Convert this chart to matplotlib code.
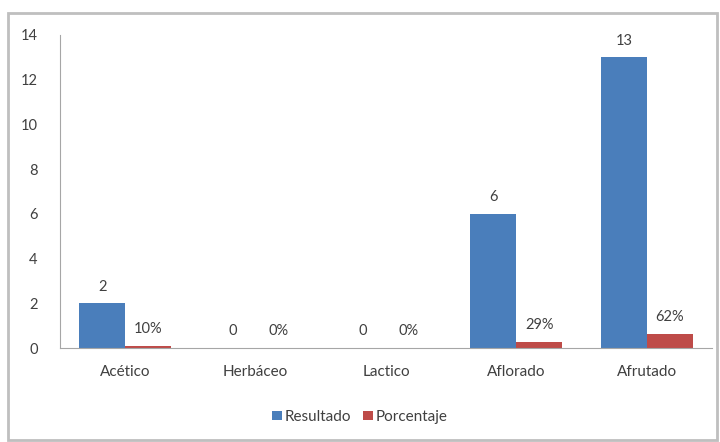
import matplotlib
matplotlib.use("Agg")
import matplotlib.pyplot as plt
from matplotlib.patches import Rectangle
import numpy as np

categories = ["Acético", "Herbáceo", "Lactico", "Aflorado", "Afrutado"]
resultado = [2, 0, 0, 6, 13]
porcentaje = [0.10, 0.0, 0.0, 0.29, 0.62]
resultado_labels = ["2", "0", "0", "6", "13"]
porcentaje_labels = ["10%", "0%", "0%", "29%", "62%"]
yticks = [0, 2, 4, 6, 8, 10, 12, 14]

plt.rcParams['font.family'] = ['Lato', 'DejaVu Sans']
text_color = "#404040"
blue = "#4a7ebb"
red = "#be4b48"

fig = plt.figure(figsize=(7.2, 4.42), dpi=100)
ax = fig.add_axes([60/720, 1-348/442, 652/720, (348-35)/442])

x = np.arange(len(categories))
w = 0.353
b1 = ax.bar(x - w/2, resultado, w, color=blue, label="Resultado")
b2 = ax.bar(x + w/2, porcentaje, w, color=red, label="Porcentaje")

for xi, v, lab in zip(x, resultado, resultado_labels):
    ax.annotate(lab, (xi - w/2, v), xytext=(0, 7), textcoords="offset points",
                ha="center", va="bottom", fontsize=10.5, color=text_color)
for xi, v, lab in zip(x, porcentaje, porcentaje_labels):
    ax.annotate(lab, (xi + w/2, v), xytext=(0, 7), textcoords="offset points",
                ha="center", va="bottom", fontsize=10.5, color=text_color)

ax.set_xlim(-0.5, len(categories) - 0.5)
ax.set_ylim(0, 14)
ax.set_yticks(yticks)
ax.set_xticks(x)
ax.set_xticklabels(categories)
ax.tick_params(axis='y', length=0, pad=16, labelsize=10.5, labelcolor=text_color)
ax.tick_params(axis='x', length=0, pad=12, labelsize=11, labelcolor=text_color)
for s in ["top", "right"]:
    ax.spines[s].set_visible(False)
ax.spines["left"].set_color("#a6a6a6")
ax.spines["bottom"].set_color("#a6a6a6")

leg = fig.legend(handles=[b1, b2], loc="center", bbox_to_anchor=(0.5, 1-417/442),
                 ncol=2, frameon=False, fontsize=11, handlelength=0.6,
                 handleheight=0.6, handletextpad=0.2, columnspacing=0.8)
for t in leg.get_texts():
    t.set_color(text_color)

fig.patches.append(Rectangle((8/720, 0.004), 709/720, 1-13/442-0.004, transform=fig.transFigure,
                             fill=False, edgecolor="#bfbfbf", linewidth=2))

fig.savefig("out.png", dpi=100)
